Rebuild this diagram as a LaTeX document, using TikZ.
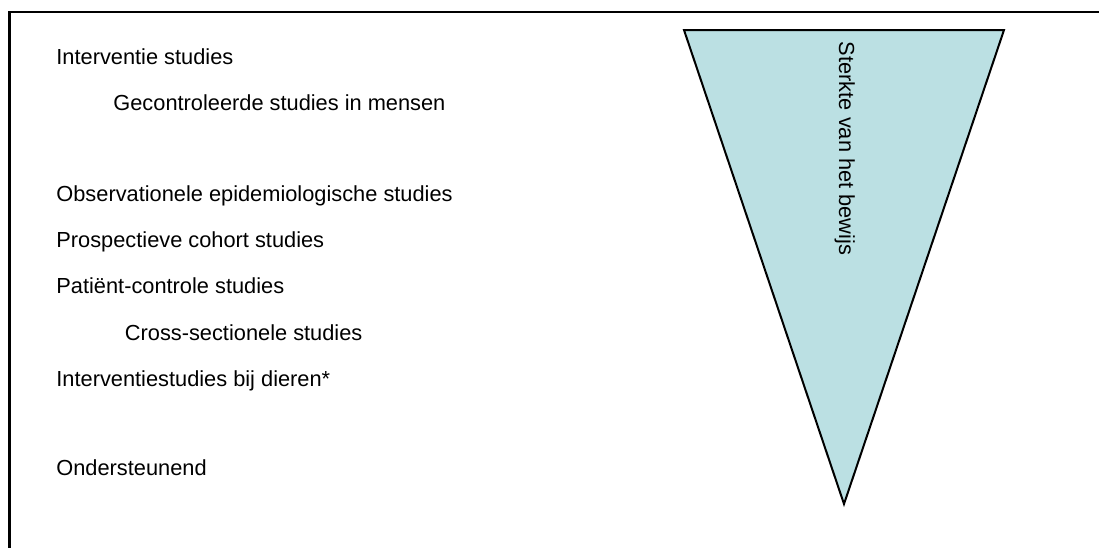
\documentclass[tikz,border=0pt]{standalone}
\usepackage{fontspec}
\setmainfont{Liberation Sans}
\definecolor{tri}{RGB}{187,224,227}
\begin{document}
\begin{tikzpicture}[x=0.5pt,y=-0.5pt,
  lbl/.style={anchor=base west,inner sep=0pt,font=\fontsize{10.9pt}{13pt}\selectfont},
  frame/.style={line width=1.2pt,line cap=rect}]
\useasboundingbox (0,0) rectangle (1099,547);
% frame
\coordinate (fc) at (9.5,12);
\coordinate (fr) at (1099,12);
\coordinate (fb) at (9.5,547);
\draw[frame] (fb) -- (fc) -- (fr);
% triangle
\coordinate (tl) at (684,30);
\coordinate (tr) at (1004,30);
\coordinate (tb) at (844,504);
\draw[fill=tri,line width=1pt,line join=miter] (tl) -- (tr) -- (tb) -- cycle;
\node[lbl,rotate=-90] (st) at (839,41.5) {Sterkte van het bewijs};
% labels
\node[lbl] (a) at (56,64.3) {Interventie studies};
\node[lbl] (b) at (113,110.5) {Gecontroleerde studies in mensen};
\node[lbl] (c) at (56,201) {Observationele epidemiologische studies};
\node[lbl] (d) at (56,247) {Prospectieve cohort studies};
\node[lbl] (e) at (56,293.3) {Patiënt-controle studies};
\node[lbl] (f) at (124.5,340) {Cross-sectionele studies};
\node[lbl] (g) at (56,386) {Interventiestudies bij dieren*};
\node[lbl] (h) at (56,475.7) {Ondersteunend};
\end{tikzpicture}
\end{document}
